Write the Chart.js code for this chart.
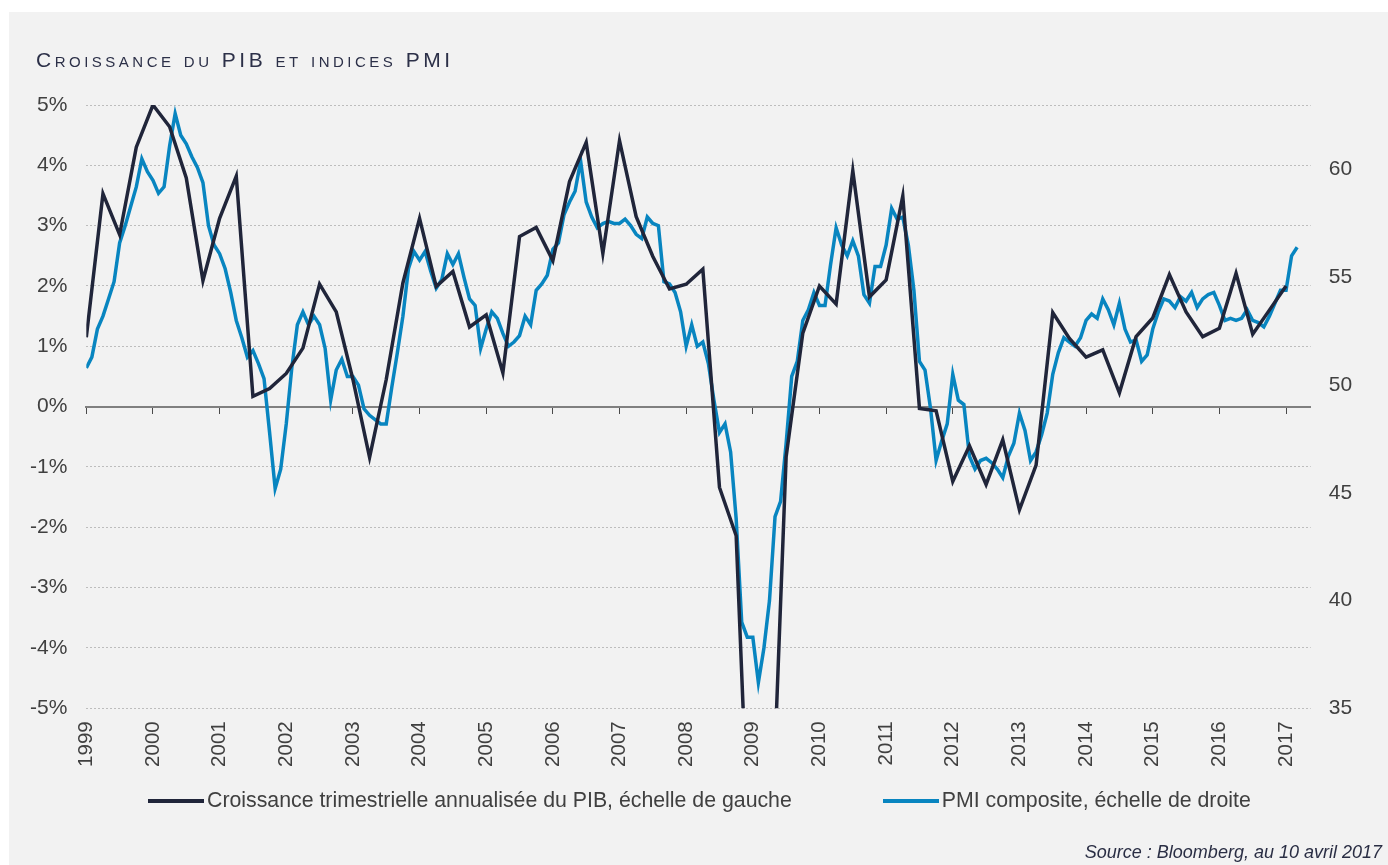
<!DOCTYPE html>
<html>
<head>
<meta charset="utf-8">
<script src="https://cdn.jsdelivr.net/npm/chart.js@4"></script>
<style>
  body { margin: 0; background: #fff; }
  #wrap { position: relative; width: 1388px; height: 865px; overflow: hidden; font-family: 'Liberation Sans', Arial, sans-serif; }
  #panel { position: absolute; left: 9px; top: 12px; right: 0; bottom: 0; background: #f2f2f2; }
  #c { position: absolute; left: 0; top: 0; }
  #title { position: absolute; left: 36px; top: 49px; font-size: 21px; line-height: 21px; font-variant: small-caps; letter-spacing: 3.5px; color: #2c3048; white-space: nowrap; }
  #legend { position: absolute; left: 148px; top: 790px; display: flex; align-items: center; font-size: 21.3px; line-height: 21px; color: #404040; white-space: nowrap; }
  #legend .item { display: flex; align-items: center; }
  #legend .item + .item { margin-left: 91px; }
  #legend .swatch { width: 56px; height: 4px; margin-right: 3px; }
  #source { position: absolute; right: 6px; top: 843px; font-size: 18px; line-height: 18px; font-style: italic; color: #2a2e44; white-space: nowrap; }
</style>
</head>
<body>
<div id="wrap">
  <div id="panel"></div>
  <canvas id="c" width="1388" height="865"></canvas>
  <div id="title">Croissance du PIB et indices PMI</div>
  <div id="legend"></div>
  <div id="source">Source : Bloomberg, au 10 avril 2017</div>
</div>
<script>
// croissance trimestrielle annualisee (%), un point par trimestre depuis 1999
const gdpStart = 1999;
const gdpValues = [
  1.15, 3.53, 2.85, 4.30, 5.0, 4.64, 3.79, 2.09, 3.12, 3.82,
  0.17, 0.30, 0.55, 0.97, 2.03, 1.57, 0.45, -0.84, 0.45, 2.05,
  3.12, 1.99, 2.24, 1.32, 1.52, 0.56, 2.82, 2.97, 2.42, 3.73,
  4.38, 2.54, 4.41, 3.15, 2.49, 1.95, 2.03, 2.28, -1.34, -2.14,
  -9.0, -8.1, -0.83, 1.22, 2.0, 1.70, 3.91, 1.82, 2.1, 3.49,
  -0.03, -0.07, -1.24, -0.65, -1.29, -0.55, -1.71, -0.97, 1.56, 1.13,
  0.82, 0.94, 0.23, 1.16, 1.47, 2.19, 1.57, 1.16, 1.30, 2.21,
  1.20, 1.60, 2.0
];

// PMI composite, un point par mois depuis janvier 1999
const pmiStart = 1999;
const pmiValues = [
  50.8, 51.3, 52.6, 53.2, 54.0, 54.8, 56.6, 57.4, 58.3, 59.2, 60.5, 59.9,
  59.5, 58.9, 59.2, 61.1, 62.6, 61.6, 61.2, 60.6, 60.1, 59.4, 57.4, 56.5,
  56.1, 55.4, 54.3, 53.0, 52.2, 51.3, 51.6, 51.0, 50.3, 47.8, 45.2, 46.1,
  48.2, 50.8, 52.8, 53.4, 52.8, 53.2, 52.8, 51.7, 49.3, 50.7, 51.2, 50.4,
  50.4, 50.0, 48.9, 48.6, 48.4, 48.2, 48.2, 49.9, 51.5, 53.2, 55.4, 56.2,
  55.8, 56.2, 55.3, 54.5, 54.9, 56.1, 55.6, 56.1, 55.0, 54.0, 53.7, 51.7,
  52.6, 53.4, 53.1, 52.4, 51.8, 52.0, 52.3, 53.2, 52.8, 54.4, 54.7, 55.1,
  56.3, 56.6, 57.9, 58.5, 59.0, 60.4, 58.5, 57.8, 57.3, 57.5, 57.6, 57.5,
  57.5, 57.7, 57.4, 57.0, 56.8, 57.8, 57.5, 57.4, 54.8, 54.7, 54.3, 53.4,
  51.8, 52.8, 51.8, 52.0, 51.0, 49.3, 47.8, 48.2, 46.9, 43.8, 39.0, 38.3,
  38.3, 36.2, 37.8, 40.0, 43.9, 44.6, 47.3, 50.4, 51.1, 53.0, 53.5, 54.3,
  53.7, 53.7, 55.6, 57.3, 56.5, 56.0, 56.7, 56.0, 54.2, 53.8, 55.5, 55.5,
  56.5, 58.2, 57.7, 57.8, 56.5, 54.4, 51.1, 50.7, 48.9, 46.5, 47.4, 48.2,
  50.5, 49.3, 49.1, 46.7, 46.1, 46.5, 46.6, 46.4, 46.1, 45.7, 46.7, 47.3,
  48.7, 47.9, 46.5, 46.9, 47.7, 48.7, 50.5, 51.5, 52.2, 52.0, 51.8, 52.2,
  53.0, 53.3, 53.1, 54.0, 53.5, 52.8, 53.8, 52.6, 52.0, 52.1, 51.1, 51.4,
  52.6, 53.4, 54.0, 53.9, 53.6, 54.1, 53.9, 54.3, 53.6, 54.0, 54.2, 54.3,
  53.7, 53.0, 53.1, 53.0, 53.1, 53.5, 53.0, 52.9, 52.7, 53.2, 53.8, 54.4,
  54.4, 56.0, 56.4
];

const yearTicks = [1999, 2000, 2001, 2002, 2003, 2004, 2005, 2006, 2007, 2008,
  2009, 2010, 2011, 2012, 2013, 2014, 2015, 2016, 2017];
const gdpTicks = [-5, -4, -3, -2, -1, 0, 1, 2, 3, 4, 5];
const pmiTicks = [35, 40, 45, 50, 55, 60];

const labels = [
  'Croissance trimestrielle annualisée du PIB, échelle de gauche',
  'PMI composite, échelle de droite'
];
const colors = ['#20253a', '#0885c0'];

const gdpPoints = gdpValues.map((v, i) => ({ x: gdpStart + i / 4, y: v }));
const pmiPoints = pmiValues.map((v, i) => ({ x: pmiStart + i / 12, y: v }));

const fontFamily = "'Liberation Sans', Arial, sans-serif";
const tickColor = '#404040';
const setTicks = list => scale => { scale.ticks = list.map(v => ({ value: v })); };

const chart = new Chart(document.getElementById('c'), {
  type: 'line',
  data: {
    datasets: [
      { label: labels[0], data: gdpPoints, yAxisID: 'y', borderColor: colors[0], backgroundColor: colors[0],
        borderWidth: 3.5, pointRadius: 0, tension: 0 },
      { label: labels[1], data: pmiPoints, yAxisID: 'y1', borderColor: colors[1], backgroundColor: colors[1],
        borderWidth: 3.5, pointRadius: 0, tension: 0 }
    ]
  },
  options: {
    responsive: false,
    animation: false,
    layout: { padding: { top: 105, left: 0, right: 0, bottom: 0 } },
    plugins: { legend: { display: false }, tooltip: { enabled: false } },
    scales: {
      x: {
        type: 'linear', position: 'bottom', min: 1999, max: 2017.37,
        afterBuildTicks: setTicks(yearTicks),
        ticks: { autoSkip: false, minRotation: 90, maxRotation: 90, padding: 13,
          font: { family: fontFamily, size: 20.5 }, color: tickColor, callback: v => String(v) },
        grid: { display: false, drawTicks: false },
        border: { display: false },
        afterFit: s => { s.height = 156.7; }
      },
      xZero: {
        type: 'linear', axis: 'x', position: { y: 0 }, min: 1999, max: 2017.37,
        afterBuildTicks: setTicks(yearTicks),
        ticks: { display: false },
        grid: { drawOnChartArea: false, drawTicks: true, tickLength: 6, color: '#4a4a4a', lineWidth: 1 },
        border: { display: true, color: '#808080', width: 2 }
      },
      y: {
        position: 'left', min: -5, max: 5,
        afterBuildTicks: setTicks(gdpTicks),
        ticks: { padding: 19, font: { family: fontFamily, size: 21 }, color: tickColor, callback: v => v + '%' },
        grid: { drawTicks: false, lineWidth: 1,
          color: c => (c.tick && c.tick.value === 0) ? 'rgba(0,0,0,0)' : '#bdbdbd' },
        border: { display: false, dash: [2, 2] },
        afterFit: s => { s.width = 86.3; }
      },
      y1: {
        position: 'right', min: 35, max: 63,
        afterBuildTicks: setTicks(pmiTicks),
        ticks: { padding: 18, font: { family: fontFamily, size: 21 }, color: tickColor, callback: v => String(v) },
        grid: { display: false, drawTicks: false },
        border: { display: false },
        afterFit: s => { s.width = 77.3; }
      }
    }
  }
});

// legende en html, a partir des jeux de donnees
const legend = document.getElementById('legend');
chart.data.datasets.forEach(ds => {
  const item = document.createElement('div');
  item.className = 'item';
  item.innerHTML = `<span class="swatch" style="background:${ds.borderColor}"></span><span>${ds.label}</span>`;
  legend.appendChild(item);
});
</script>
</body>
</html>
